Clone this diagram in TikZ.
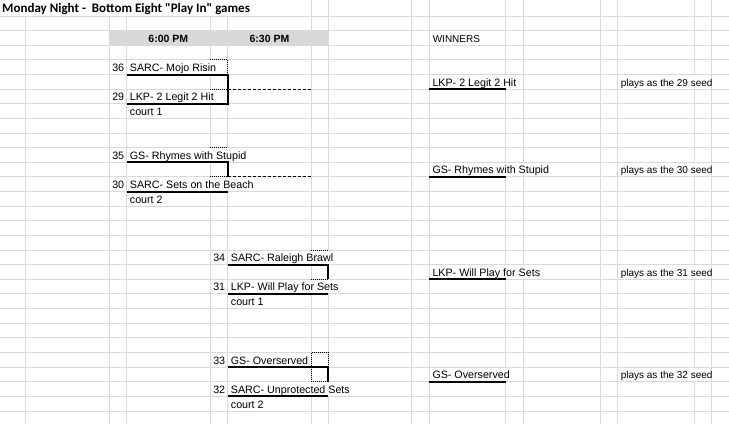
\documentclass[tikz,border=0pt]{standalone}
\usepackage{fontspec}
\setmainfont{Liberation Sans}
\newfontfamily\titlefont{Carlito}
\definecolor{gridc}{RGB}{216,218,219}
\definecolor{headc}{RGB}{216,216,216}
\tikzset{
  declare function={Y(\k)=16+14.63*\k;},
  txt/.style={inner sep=0pt, font=\fontsize{10.7}{12}\selectfont, text=black},
  smalltxt/.style={inner sep=0pt, font=\fontsize{10}{12}\selectfont, text=black},
  hdr/.style={inner sep=0pt, font=\fontsize{10.5}{12}\selectfont\bfseries, text=black},
  gridline/.style={draw=gridc, line width=1pt},
  thickb/.style={line width=2pt},
  dottedb/.style={line width=0.9pt, dash pattern=on 1pt off 1pt},
  dashedb/.style={line width=0.9pt, dash pattern=on 3pt off 2pt},
}
\newcommand\cover[3]{\fill[white] (#2+0.6,{Y(#1-1)+0.6}) rectangle (#3-0.6,{Y(#1)-0.6});}
\newcommand\celltxt[4]{\node[txt, anchor=base west] (#1) at (#3+3,{Y(#2)-3}) {#4};}
\newcommand\smallcell{\celltxtsmall}
\newcommand\celltxtsmall[4]{\node[smalltxt, anchor=base west] (#1) at (#3+3.3,{Y(#2)-3}) {#4};}
\newcommand\seednum[4]{\node[txt, anchor=base east] (#1) at (#3-2.3,{Y(#2)-3}) {#4};}
\begin{document}
\begin{tikzpicture}[x=1pt,y=-1pt]
\useasboundingbox (0,0) rectangle (729,424);
\fill[white] (0,0) rectangle (729,424);
% grid
\foreach \k in {0,...,27} \draw[gridline] (0,{Y(\k)}) -- (729,{Y(\k)});
\foreach \x in {25.7,109,126.7,210,227.7,311,328.3,411.7,429.3,505.7,523.3,600,617.3,694.3,711.7}
  \draw[gridline] (\x,0) -- (\x,424);
% title row overflow
\fill[white] (0,0) rectangle (310.5,15.5);
\node[anchor=base west, inner sep=0pt, font={\fontsize{13}{15}\titlefont\bfseries}] (title) at (2,12.5) {Monday Night -\ \ Bottom Eight "Play In" games};
% header
\fill[headc] (109.5,{Y(1)+0.5}) rectangle (328.3,{Y(2)-0.5});
\node[hdr, anchor=base] (h600) at (168.3,{Y(2)-3.2}) {6:00 PM};
\node[hdr, anchor=base] (h630) at (269.5,{Y(2)-3.2}) {6:30 PM};
\smallcell{winners}{2}{429.3}{WINNERS}
% overflow covers
\cover{4}{126.7}{227.7}
\cover{6}{126.7}{227.7}
\cover{5}{429.3}{523.3}
\cover{5}{617.3}{711.7}
\cover{10}{126.7}{311}
\cover{12}{126.7}{311}
\cover{11}{429.3}{600}
\cover{11}{617.3}{711.7}
\cover{17}{227.7}{411.7}
\cover{19}{227.7}{411.7}
\cover{18}{429.3}{600}
\cover{18}{617.3}{711.7}
\cover{26}{227.7}{411.7}
\cover{25}{429.3}{523.3}
\cover{25}{617.3}{711.7}
% match 1
\draw[thickb] (126.7,{Y(4)}) -- (227.7,{Y(4)}) -- (227.7,{Y(6)}) -- (126.7,{Y(6)});
\draw[dottedb] (210,{Y(3)}) -- (227.7,{Y(3)}) -- (227.7,{Y(4)});
\draw[dottedb] (210,{Y(5)}) -- (227.7,{Y(5)});
\draw[dashedb] (227.7,{Y(5)}) -- (311,{Y(5)});
\draw[thickb] (429.3,{Y(5)}) -- (505.7,{Y(5)});
\seednum{s36}{4}{126.7}{36}
\celltxt{t36}{4}{126.7}{SARC- Mojo Risin}
\seednum{s29}{6}{126.7}{29}
\celltxt{t29}{6}{126.7}{LKP- 2 Legit 2 Hit}
\celltxt{court1a}{7}{126.7}{court 1}
\celltxt{w1}{5}{429.3}{LKP- 2 Legit 2 Hit}
\smallcell{p1}{5}{617.3}{plays as the 29 seed}
% match 2
\draw[thickb] (126.7,{Y(10)}) -- (227.7,{Y(10)}) -- (227.7,{Y(11)});
\draw[thickb] (126.7,{Y(12)}) -- (227.7,{Y(12)});
\draw[dottedb] (210,{Y(9)}) -- (227.7,{Y(9)});
\draw[dottedb] (210,{Y(11)}) -- (227.7,{Y(11)});
\draw[dashedb] (227.7,{Y(11)}) -- (311,{Y(11)});
\draw[thickb] (429.3,{Y(11)}) -- (505.7,{Y(11)});
\seednum{s35}{10}{126.7}{35}
\celltxt{t35}{10}{126.7}{GS- Rhymes with Stupid}
\seednum{s30}{12}{126.7}{30}
\celltxt{t30}{12}{126.7}{SARC- Sets on the Beach}
\celltxt{court2a}{13}{126.7}{court 2}
\celltxt{w2}{11}{429.3}{GS- Rhymes with Stupid}
\smallcell{p2}{11}{617.3}{plays as the 30 seed}
% match 3
\draw[thickb] (227.7,{Y(17)}) -- (328.3,{Y(17)}) -- (328.3,{Y(18)});
\draw[thickb] (227.7,{Y(19)}) -- (328.3,{Y(19)});
\draw[dottedb] (311,{Y(16)}) -- (328.3,{Y(16)});
\draw[dottedb] (311,{Y(18)}) -- (328.3,{Y(18)});
\draw[thickb] (429.3,{Y(18)}) -- (505.7,{Y(18)});
\seednum{s34}{17}{227.7}{34}
\celltxt{t34}{17}{227.7}{SARC- Raleigh Brawl}
\seednum{s31}{19}{227.7}{31}
\celltxt{t31}{19}{227.7}{LKP- Will Play for Sets}
\celltxt{court1b}{20}{227.7}{court 1}
\celltxt{w3}{18}{429.3}{LKP- Will Play for Sets}
\smallcell{p3}{18}{617.3}{plays as the 31 seed}
% match 4
\draw[thickb] (227.7,{Y(24)}) -- (328.3,{Y(24)}) -- (328.3,{Y(25)});
\draw[thickb] (227.7,{Y(26)}) -- (328.3,{Y(26)});
\draw[dottedb] (311,{Y(25)}) -- (311,{Y(23)}) -- (328.3,{Y(23)}) -- (328.3,{Y(24)});
\draw[dottedb] (311,{Y(25)}) -- (328.3,{Y(25)});
\draw[thickb] (429.3,{Y(25)}) -- (505.7,{Y(25)});
\seednum{s33}{24}{227.7}{33}
\celltxt{t33}{24}{227.7}{GS- Overserved}
\seednum{s32}{26}{227.7}{32}
\celltxt{t32}{26}{227.7}{SARC- Unprotected Sets}
\celltxt{court2b}{27}{227.7}{court 2}
\celltxt{w4}{25}{429.3}{GS- Overserved}
\smallcell{p4}{25}{617.3}{plays as the 32 seed}
\end{tikzpicture}
\end{document}
